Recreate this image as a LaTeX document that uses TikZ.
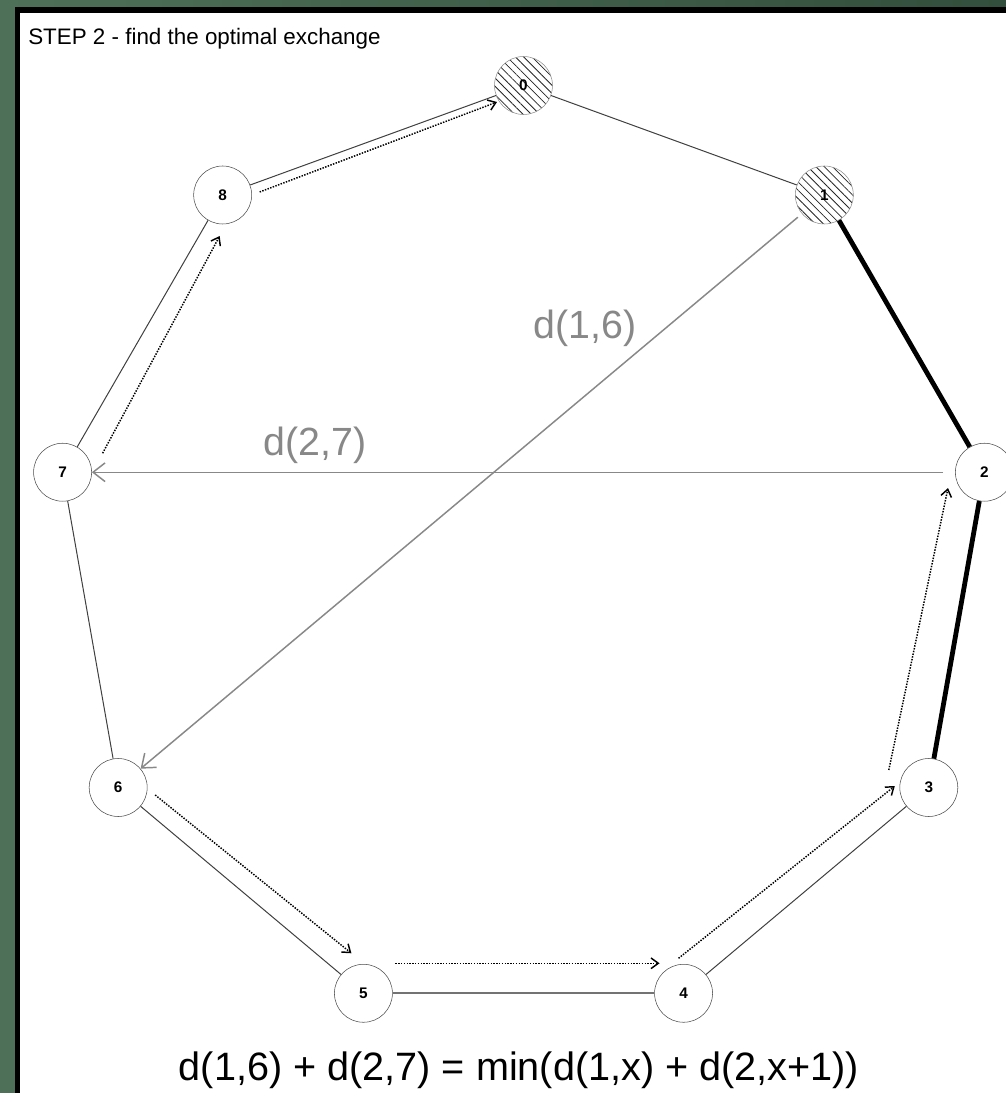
\documentclass[tikz,border=0pt]{standalone}
\usepackage{fontspec}
\setmainfont{Liberation Sans}
\usepackage{tikz}
\usetikzlibrary{arrows.meta,calc,patterns.meta}

\definecolor{boardgreen}{RGB}{78,112,88}
\definecolor{boarddark}{RGB}{50,78,60}
\definecolor{distgray}{RGB}{136,136,136}

\begin{document}
\begin{tikzpicture}[
    x=0.75pt, y=0.75pt,
    vtx/.style={draw=black!70, circle, fill=white, minimum size=43.5pt, inner sep=0pt, font=\fontsize{11.5}{13}\selectfont\bfseries},
    done/.style={vtx, draw=black!45, pattern={Lines[angle=-45,distance=4.4pt,line width=0.6pt]}, pattern color=black!85},
    hedge/.style={draw=black!75, line width=0.75pt},
    best/.style={draw=black, line width=3.6pt},
    trav/.style={-{Straight Barb[length=5.5pt,width=8pt]}, densely dotted, line width=1.1pt},
    dist/.style={-{Straight Barb[length=9pt,width=14pt]}, distgray, line width=1.1pt},
    dlbl/.style={text=distgray, inner sep=0pt, font=\fontsize{29.5}{34}\selectfont}
]
\useasboundingbox (-523.5,-539.5) rectangle (482.5,553.5);
% board
\fill[left color=boardgreen, right color=boarddark] (-523.5,-539.5) rectangle (482.5,553.5);
\fill[black] (-508.5,-539.5) rectangle (482.5,546.5);
\fill[white] (-503.5,-539.5) rectangle (482.5,540.5);

\node[anchor=base west, inner sep=0pt, font=\fontsize{16.8}{20}\selectfont] (title) at (-495.5,508.5) {STEP 2 - find the optimal exchange};

% tour
\node[done] (n0) at (90:468) {0};
\node[done] (n1) at (50:468) {1};
\node[vtx] (n2) at (10:468) {2};
\node[vtx] (n3) at (-30:468) {3};
\node[vtx] (n4) at (-70:468) {4};
\node[vtx] (n5) at (-110:468) {5};
\node[vtx] (n6) at (-150:468) {6};
\node[vtx] (n7) at (170:468) {7};
\node[vtx] (n8) at (130:468) {8};

\draw[hedge] (n0) -- (n1);
\draw[best] (n1) -- (n2);
\draw[best] (n2) -- (n3);
\draw[hedge] (n3) -- (n4);
\draw[hedge, draw=black!55, line width=1.5pt] (n4) -- (n5);
\draw[hedge] (n5) -- (n6);
\draw[hedge] (n6) -- (n7);
\draw[hedge] (n7) -- (n8);
\draw[hedge] (n8) -- (n0);

% candidate exchange
\draw[dist, shorten <=4pt] (n1) -- (n6);
\draw[dist, shorten <=9pt] (n2) -- (n7);
\node[dlbl] (d16) at (61.5,225.5) {d(1,6)};
\node[dlbl] (d27) at (-208.5,108.5) {d(2,7)};

% walk direction
\draw[trav] ($(n7)+(40,19)$) -- ($(n8)+(-3,-41)$);
\draw[trav] ($(n8)+(37,3)$) -- ($(n0)+(-26.5,-16.5)$);
\draw[trav] ($(n6)+(37,-7.5)$) -- ($(n5)+(-12,40)$);
\draw[trav] ($(n5)+(32,30)$) -- ($(n4)+(-24,30)$);
\draw[trav] ($(n4)+(-5,35)$) -- ($(n3)+(-34,1.5)$);
\draw[trav] ($(n3)+(-40,17.5)$) -- ($(n2)+(-36.4,-15.8)$);

\node[anchor=base, inner sep=0pt, font=\fontsize{29.7}{34}\selectfont] (rule) at (-4.5,-526.5) {d(1,6) + d(2,7) = min(d(1,x) + d(2,x+1))};
\end{tikzpicture}
\end{document}
